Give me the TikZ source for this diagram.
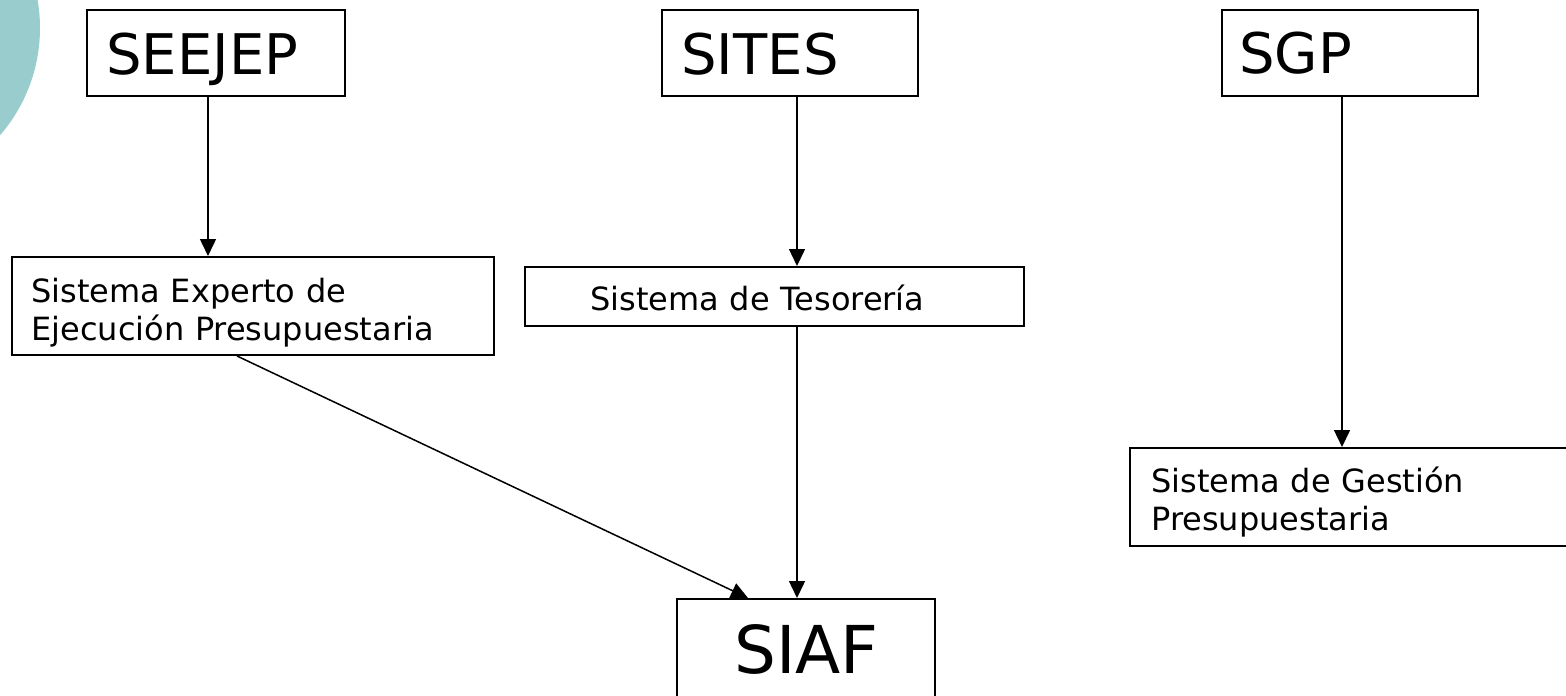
\documentclass[tikz,border=0pt]{standalone}
\usepackage{fontspec}
\setmainfont{DejaVu Sans}
\usetikzlibrary{arrows.meta}
\definecolor{tealbg}{RGB}{153,205,205}
\tikzset{
  box/.style={draw=black, line width=1pt, rectangle, inner sep=0pt, fill=white},
  bigtxt/.style={anchor=base west, inner sep=0pt, font=\fontsize{28}{34}\selectfont},
  smalltxt/.style={anchor=base west, inner sep=0pt, align=left, text width=230pt, font=\fontsize{16}{19}\selectfont},
  siaftxt/.style={anchor=base west, inner sep=0pt, font=\fontsize{33}{40}\selectfont},
  arr/.style={draw=black, line width=0.75pt, -{Triangle[length=8.5pt,width=8pt]}},
}
\begin{document}
\begin{tikzpicture}[x=0.5pt,y=-0.5pt]
\useasboundingbox (0,0) rectangle (1566,695);
\clip (0,0) rectangle (1566,695);
\fill[tealbg] (-124,28) circle[radius=82pt];
% boxes
\node[box, minimum width=129pt, minimum height=43pt] (seejep) at (216,53) {};
\node[box, minimum width=128pt, minimum height=43pt] (sites) at (790,53) {};
\node[box, minimum width=128pt, minimum height=43pt] (sgp) at (1350,53) {};
\node[box, minimum width=241pt, minimum height=49pt] (experto) at (253,306) {};
\node[box, minimum width=249.5pt, minimum height=29.5pt] (tesoreria) at (774.5,296.5) {};
\node[box, minimum width=235pt, minimum height=49pt] (gestion) at (1365,497) {};
\node[box, minimum width=129pt, minimum height=60.5pt] (siaf) at (806,659.5) {};
% texts
\node[bigtxt] (seejepT) at (106,74.5) {SEEJEP};
\node[bigtxt] (sitesT) at (681,75) {SITES};
\node[bigtxt] (sgpT) at (1239,74) {SGP};
\node[smalltxt] (expertoT) at (31,302) {Sistema Experto de\\Ejecución Presupuestaria};
\node[smalltxt] (tesoreriaT) at (590,310) {Sistema de Tesorería};
\node[smalltxt] (gestionT) at (1151,492) {Sistema de Gestión\\Presupuestaria};
\node[siaftxt] (siafT) at (734,673) {SIAF};
% guide coordinates
\coordinate (xa) at (208,0);
\coordinate (xb) at (797,0);
\coordinate (xc) at (1342,0);
\coordinate (xd) at (237,0);
\coordinate (xe) at (748,0);
% connectors
\draw[arr] (seejep.south -| xa) -- (experto.north -| xa);
\draw[arr] (sites.south -| xb) -- (tesoreria.north -| xb);
\draw[arr] (tesoreria.south -| xb) -- (siaf.north -| xb);
\draw[arr] (sgp.south -| xc) -- (gestion.north -| xc);
\draw[arr] (experto.south -| xd) -- (siaf.north -| xe);
\end{tikzpicture}
\end{document}
